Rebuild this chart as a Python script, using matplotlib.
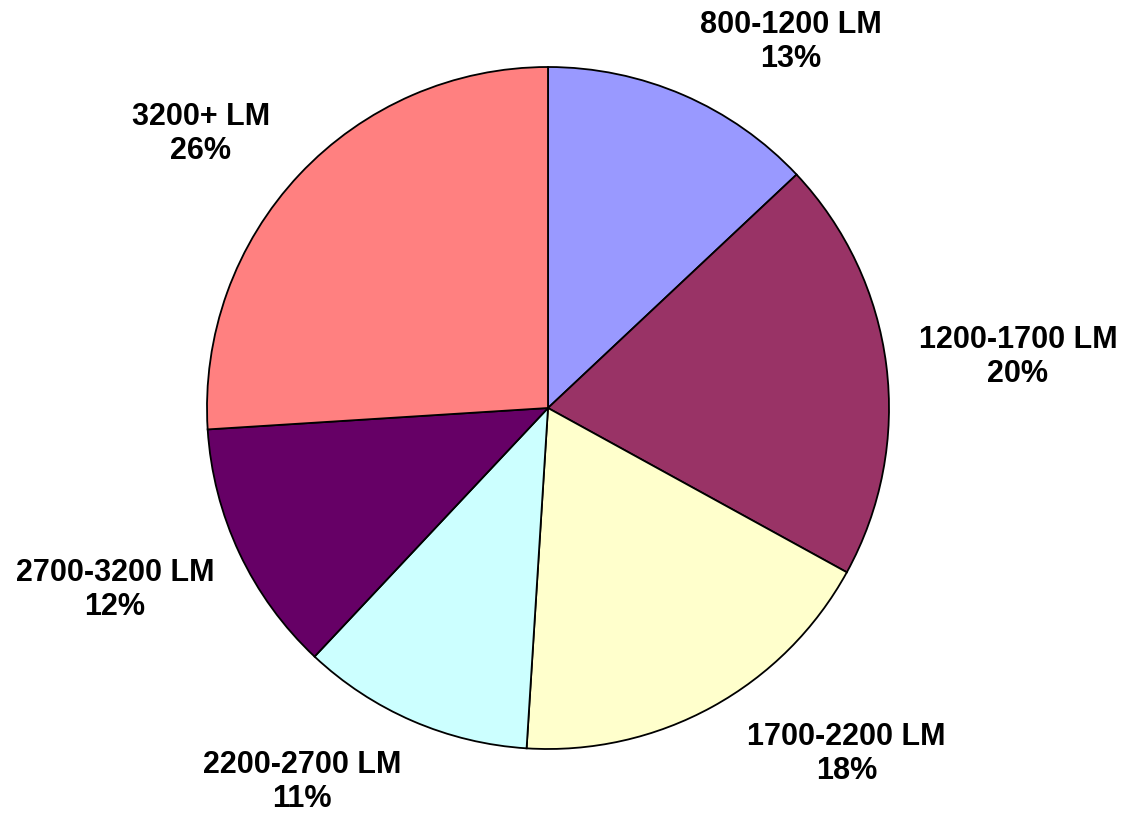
import matplotlib.pyplot as plt

plt.rcParams['font.family'] = ['Liberation Sans', 'DejaVu Sans']

# Share of lamps by lumen range
categories = ["800-1200 LM", "1200-1700 LM", "1700-2200 LM",
              "2200-2700 LM", "2700-3200 LM", "3200+ LM"]
shares = [13, 20, 18, 11, 12, 26]
colors = ["#9999FF", "#993366", "#FFFFCC", "#CCFFFF", "#660066", "#FF8080"]

# label anchor points, in units of the pie radius
label_pos = [(0.713, 1.073), (1.378, 0.150), (0.876, -1.015),
             (-0.721, -1.097), (-1.270, -0.534), (-1.018, 0.804)]

fig = plt.figure(figsize=(11.33, 8.13), dpi=100)
ax = fig.add_axes([207 / 1133, (813 - 408 - 341) / 813, 682 / 1133, 682 / 813])

ax.pie(shares, colors=colors, startangle=90, counterclock=False, radius=1,
       wedgeprops=dict(edgecolor="black", linewidth=1.3))
ax.set_xlim(-1, 1)
ax.set_ylim(-1, 1)
ax.set_aspect("equal")
ax.axis("off")

for cat, val, (x, y) in zip(categories, shares, label_pos):
    ax.text(x, y, f"{cat}\n{val}%", ha="center", va="center",
            fontsize=22, fontweight="bold", linespacing=1.2, clip_on=False)

fig.savefig("out.png", dpi=100)
